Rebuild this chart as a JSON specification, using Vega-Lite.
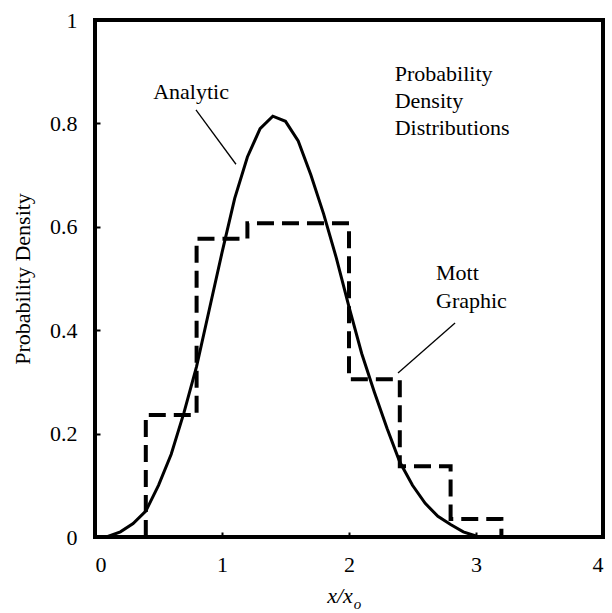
{
  "$schema": "https://vega.github.io/schema/vega-lite/v6.json",
  "width": 508,
  "height": 517,
  "autosize": "none",
  "padding": {"left": 95, "top": 20, "right": 9, "bottom": 76},
  "background": "white",
  "config": {
    "font": "Liberation Serif",
    "view": {"stroke": "black", "strokeWidth": 4},
    "axis": {
      "grid": false,
      "domain": false,
      "labelColor": "black",
      "tickColor": "black",
      "tickWidth": 2,
      "tickSize": -5,
      "titleColor": "black"
    }
  },
  "datasets": {
    "analytic": [
      {"x": 0.09, "y": 0.0},
      {"x": 0.2, "y": 0.01},
      {"x": 0.3, "y": 0.026},
      {"x": 0.4, "y": 0.05},
      {"x": 0.5, "y": 0.1},
      {"x": 0.6, "y": 0.16},
      {"x": 0.7, "y": 0.24},
      {"x": 0.8, "y": 0.33},
      {"x": 0.9, "y": 0.44},
      {"x": 1.0, "y": 0.55},
      {"x": 1.1, "y": 0.655},
      {"x": 1.2, "y": 0.735},
      {"x": 1.3, "y": 0.79},
      {"x": 1.4, "y": 0.814},
      {"x": 1.5, "y": 0.804},
      {"x": 1.6, "y": 0.766},
      {"x": 1.7, "y": 0.7},
      {"x": 1.8, "y": 0.625},
      {"x": 1.9, "y": 0.54},
      {"x": 2.0, "y": 0.445},
      {"x": 2.1, "y": 0.355},
      {"x": 2.2, "y": 0.28},
      {"x": 2.3, "y": 0.21},
      {"x": 2.4, "y": 0.145},
      {"x": 2.5, "y": 0.1},
      {"x": 2.6, "y": 0.065},
      {"x": 2.7, "y": 0.04},
      {"x": 2.8, "y": 0.024},
      {"x": 2.9, "y": 0.01},
      {"x": 3.0, "y": 0.002}
    ],
    "mott": [
      {"i": 1, "x": 0.4, "y": 0.0},
      {"i": 2, "x": 0.4, "y": 0.236},
      {"i": 3, "x": 0.8, "y": 0.236},
      {"i": 4, "x": 0.8, "y": 0.577},
      {"i": 5, "x": 1.2, "y": 0.577},
      {"i": 6, "x": 1.2, "y": 0.607},
      {"i": 7, "x": 2.0, "y": 0.607},
      {"i": 8, "x": 2.0, "y": 0.305},
      {"i": 9, "x": 2.4, "y": 0.305},
      {"i": 10, "x": 2.4, "y": 0.137},
      {"i": 11, "x": 2.8, "y": 0.137},
      {"i": 12, "x": 2.8, "y": 0.035},
      {"i": 13, "x": 3.2, "y": 0.035},
      {"i": 14, "x": 3.2, "y": 0.0}
    ],
    "leaders": [
      {"x": 0.795, "y": 0.826, "x2": 1.11, "y2": 0.721},
      {"x": 2.835, "y": 0.414, "x2": 2.386, "y2": 0.317}
    ],
    "centerLabels": [
      {"x": 0.756, "y": 0.848, "t": "Analytic"}
    ],
    "leftLabels": [
      {"x": 2.36, "y": 0.882, "t": "Probability"},
      {"x": 2.36, "y": 0.83, "t": "Density"},
      {"x": 2.36, "y": 0.778, "t": "Distributions"},
      {"x": 2.685, "y": 0.497, "t": "Mott"},
      {"x": 2.685, "y": 0.443, "t": "Graphic"}
    ]
  },
  "layer": [
    {
      "data": {"name": "analytic"},
      "mark": {"type": "line", "color": "black", "strokeWidth": 3, "clip": false},
      "encoding": {
        "x": {"field": "x", "type": "quantitative", "scale": {"domain": [0, 4], "nice": false},
          "axis": {"values": [0, 1, 2, 3, 4], "format": "~g", "labelPadding": 22, "title": null,
            "labelFont": "Liberation Serif", "labelFontSize": 22}},
        "y": {"field": "y", "type": "quantitative", "scale": {"domain": [0, 1], "nice": false},
          "axis": {"values": [0, 0.2, 0.4, 0.6, 0.8, 1], "format": "~g", "labelPadding": 23,
            "labelFont": "Liberation Serif", "labelFontSize": 22,
            "title": "Probability Density", "titlePadding": 15,
            "titleFont": "Liberation Serif", "titleFontSize": 22, "titleFontWeight": "normal"}}
      }
    },
    {
      "data": {"name": "mott"},
      "mark": {"type": "line", "color": "black", "strokeWidth": 4, "strokeDash": [17, 8]},
      "encoding": {
        "x": {"field": "x", "type": "quantitative"},
        "y": {"field": "y", "type": "quantitative"},
        "order": {"field": "i", "type": "quantitative"}
      }
    },
    {
      "data": {"name": "leaders"},
      "mark": {"type": "rule", "color": "black", "strokeWidth": 1.3},
      "encoding": {
        "x": {"field": "x", "type": "quantitative"},
        "y": {"field": "y", "type": "quantitative"},
        "x2": {"field": "x2"},
        "y2": {"field": "y2"}
      }
    },
    {
      "data": {"name": "centerLabels"},
      "mark": {"type": "text", "baseline": "alphabetic", "align": "center", "font": "Liberation Serif", "fontSize": 22, "color": "black"},
      "encoding": {
        "x": {"field": "x", "type": "quantitative"},
        "y": {"field": "y", "type": "quantitative"},
        "text": {"field": "t"}
      }
    },
    {
      "data": {"name": "leftLabels"},
      "mark": {"type": "text", "baseline": "alphabetic", "align": "left", "font": "Liberation Serif", "fontSize": 22, "color": "black"},
      "encoding": {
        "x": {"field": "x", "type": "quantitative"},
        "y": {"field": "y", "type": "quantitative"},
        "text": {"field": "t"}
      }
    },
    {
      "data": {"values": [{"x": 2.03, "y": -0.127, "t": "x/x"}]},
      "mark": {"type": "text", "baseline": "alphabetic", "align": "right", "fontStyle": "italic", "font": "Liberation Serif", "fontSize": 22, "color": "black"},
      "encoding": {
        "x": {"field": "x", "type": "quantitative"},
        "y": {"field": "y", "type": "quantitative"},
        "text": {"field": "t"}
      }
    },
    {
      "data": {"values": [{"x": 2.03, "y": -0.139, "t": "o"}]},
      "mark": {"type": "text", "baseline": "alphabetic", "align": "left", "fontStyle": "italic", "fontSize": 15, "dx": 1, "font": "Liberation Serif", "color": "black"},
      "encoding": {
        "x": {"field": "x", "type": "quantitative"},
        "y": {"field": "y", "type": "quantitative"},
        "text": {"field": "t"}
      }
    }
  ]
}
